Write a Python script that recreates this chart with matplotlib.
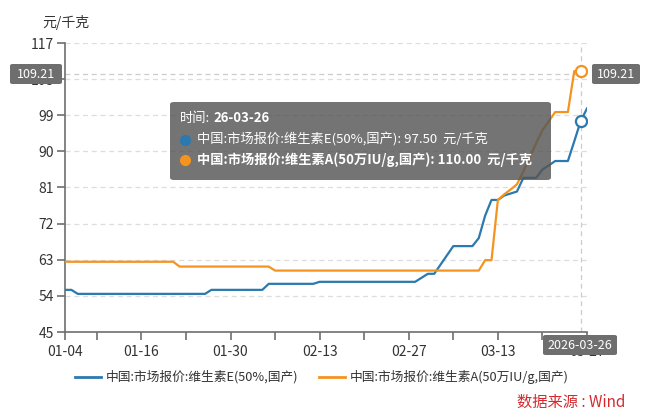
import matplotlib
matplotlib.use("Agg")
import matplotlib.pyplot as plt
from matplotlib.patches import FancyBboxPatch
from matplotlib.lines import Line2D
import pandas as pd
import numpy as np

plt.rcParams['font.family'] = ['Noto Sans CJK SC', 'DejaVu Sans']

# daily dates 2026-01-04 .. 2026-03-27
dates = pd.date_range("2026-01-04", "2026-03-27", freq="D")

vit_e = [
    55.5, 55.5, 54.5, 54.5, 54.5, 54.5, 54.5, 54.5, 54.5, 54.5,
    54.5, 54.5, 54.5, 54.5, 54.5, 54.5, 54.5, 54.5, 54.5, 54.5,
    54.5, 54.5, 54.5, 55.5, 55.5, 55.5, 55.5, 55.5, 55.5, 55.5,
    55.5, 55.5, 57.0, 57.0, 57.0, 57.0, 57.0, 57.0, 57.0, 57.0,
    57.5, 57.5, 57.5, 57.5, 57.5, 57.5, 57.5, 57.5, 57.5, 57.5,
    57.5, 57.5, 57.5, 57.5, 57.5, 57.5, 58.5, 59.5, 59.5, 61.8,
    64.1, 66.4, 66.4, 66.4, 66.4, 68.4, 74.0, 77.9, 77.9, 79.0,
    79.5, 80.0, 83.4, 83.4, 83.4, 85.5, 86.5, 87.6, 87.6, 87.6,
    92.5, 97.5, 100.7,
]
vit_a = [
    62.5, 62.5, 62.5, 62.5, 62.5, 62.5, 62.5, 62.5, 62.5, 62.5,
    62.5, 62.5, 62.5, 62.5, 62.5, 62.5, 62.5, 62.5, 61.3, 61.3,
    61.3, 61.3, 61.3, 61.3, 61.3, 61.3, 61.3, 61.3, 61.3, 61.3,
    61.3, 61.3, 61.3, 60.3, 60.3, 60.3, 60.3, 60.3, 60.3, 60.3,
    60.3, 60.3, 60.3, 60.3, 60.3, 60.3, 60.3, 60.3, 60.3, 60.3,
    60.3, 60.3, 60.3, 60.3, 60.3, 60.3, 60.3, 60.3, 60.3, 60.3,
    60.3, 60.3, 60.3, 60.3, 60.3, 60.3, 62.9, 62.9, 77.9, 79.3,
    80.5, 81.8, 85.0, 88.5, 92.0, 95.3, 97.5, 99.8, 99.8, 99.8,
    110.0, 110.0, np.nan,
]

name_e = "中国:市场报价:维生素E(50%,国产)"
name_a = "中国:市场报价:维生素A(50万IU/g,国产)"
y_ticks = [45, 54, 63, 72, 81, 90, 99, 108, 117]
label_dates = ["2026-01-04", "2026-01-16", "2026-01-30", "2026-02-13",
               "2026-02-27", "2026-03-13", "2026-03-27"]
minor_dates = ["2026-01-09", "2026-01-23", "2026-02-06", "2026-02-20",
               "2026-03-06", "2026-03-20"]
hover_date = "2026-03-26"
hover_y = 109.21

c_e = "#2b79ae"
c_a = "#f5931f"
axis_c = "#6e6e6e"
grid_c = "#dddddd"

W, H = 660, 419
fig = plt.figure(figsize=(6.6, 4.19), dpi=100)
ax = fig.add_axes([65 / W, 1 - 332 / H, (587 - 65) / W, (332 - 43) / H])

ax.plot(dates, vit_e, color=c_e, lw=1.6, zorder=3)
ax.plot(dates, vit_a, color=c_a, lw=1.6, zorder=3)

hd = pd.Timestamp(hover_date)
hi = list(dates).index(hd)
ax.plot([hd], [vit_e[hi]], 'o', ms=8, mfc='white', mec=c_e, mew=1.6, zorder=5)
ax.plot([hd], [vit_a[hi]], 'o', ms=8, mfc='white', mec=c_a, mew=1.6, zorder=5)

ax.set_xlim(dates[0], dates[-1])
ax.set_ylim(45, 117)
ax.set_yticks(y_ticks)
ax.set_yticklabels([str(v) for v in y_ticks])
ax.set_xticks(pd.to_datetime(label_dates))
ax.set_xticklabels([pd.Timestamp(d).strftime("%m-%d") for d in label_dates])
ax.set_xticks(pd.to_datetime(minor_dates), minor=True)

for v in y_ticks[1:]:
    ax.axhline(v, color=grid_c, lw=0.9, ls=(0, (4, 3)), zorder=1)
# crosshair
ax.axhline(hover_y, color="#cccccc", lw=0.9, ls=(0, (4, 3)), zorder=1)
ax.axvline(hd, color="#cccccc", lw=0.9, ls=(0, (4, 3)), zorder=1)

for s in ['top', 'right']:
    ax.spines[s].set_visible(False)
for s in ['left', 'bottom']:
    ax.spines[s].set_color(axis_c)
    ax.spines[s].set_linewidth(1.2)
ax.tick_params(axis='both', which='both', color=axis_c, width=1.2, length=6,
               labelsize=10, labelcolor="#333333")
ax.tick_params(axis='y', pad=2)
ax.tick_params(axis='x', pad=3)

fig.text(42 / W, 1 - 22 / H, "元/千克", fontsize=10, color="#333333",
         va='center', ha='left')

# crosshair labels
def tag(cx, cy, w, h, txt):
    box = FancyBboxPatch((cx - w / 2, cy - h / 2), w, h,
                         boxstyle="round,pad=0,rounding_size=0.004",
                         transform=fig.transFigure, fc="#6e6e6e", ec="none",
                         zorder=10, figure=fig)
    fig.patches.append(box)
    fig.text(cx, cy, txt, color="white", fontsize=9, ha='center', va='center',
             zorder=11)

tag(36 / W, 1 - 74 / H, 52 / W, 20 / H, f"{hover_y:.2f}")
tag(616 / W, 1 - 74 / H, 48 / W, 20 / H, f"{hover_y:.2f}")
tag(580 / W, 1 - 345 / H, 74 / W, 20 / H, hover_date)

# tooltip
tip = FancyBboxPatch((170 / W, 1 - 180 / H), 381 / W, 78 / H,
                     boxstyle="round,pad=0,rounding_size=0.006",
                     transform=fig.transFigure, fc="#555555", ec="none",
                     alpha=0.82, zorder=10, figure=fig)
fig.patches.append(tip)
fig.text(180 / W, 1 - 118 / H, "时间:", color="white", fontsize=9.5,
         va='center', zorder=11)
fig.text(213 / W, 1 - 118 / H, hover_date[2:], color="white", fontsize=9.5,
         fontweight='bold', va='center', zorder=11)
fig.lines.append(Line2D([185 / W], [1 - 140 / H], marker='o', ms=7, color=c_e,
                        transform=fig.transFigure, zorder=11))
fig.lines.append(Line2D([185 / W], [1 - 160 / H], marker='o', ms=7, color=c_a,
                        transform=fig.transFigure, zorder=11))
fig.text(197 / W, 1 - 140 / H, f"{name_e}: {vit_e[hi]:.2f}  元/千克",
         color="white", fontsize=9.5, va='center', zorder=11)
fig.text(197 / W, 1 - 160 / H, f"{name_a}: {vit_a[hi]:.2f}  元/千克",
         color="white", fontsize=9.5, fontweight='bold', va='center', zorder=11)

# legend
handles = [Line2D([], [], color=c_e, lw=2), Line2D([], [], color=c_a, lw=2)]
fig.legend(handles, [name_e, name_a], ncol=2, loc='center',
           bbox_to_anchor=(322 / W, 1 - 377 / H), frameon=False, fontsize=9.2,
           handlelength=2.0, handletextpad=0.4, columnspacing=1.6,
           labelcolor="#333333")

fig.text(625 / W, 1 - 402 / H, "数据来源 : Wind", color="#d42a2f", fontsize=11,
         ha='right', va='center')

fig.savefig("out.png", dpi=100)
